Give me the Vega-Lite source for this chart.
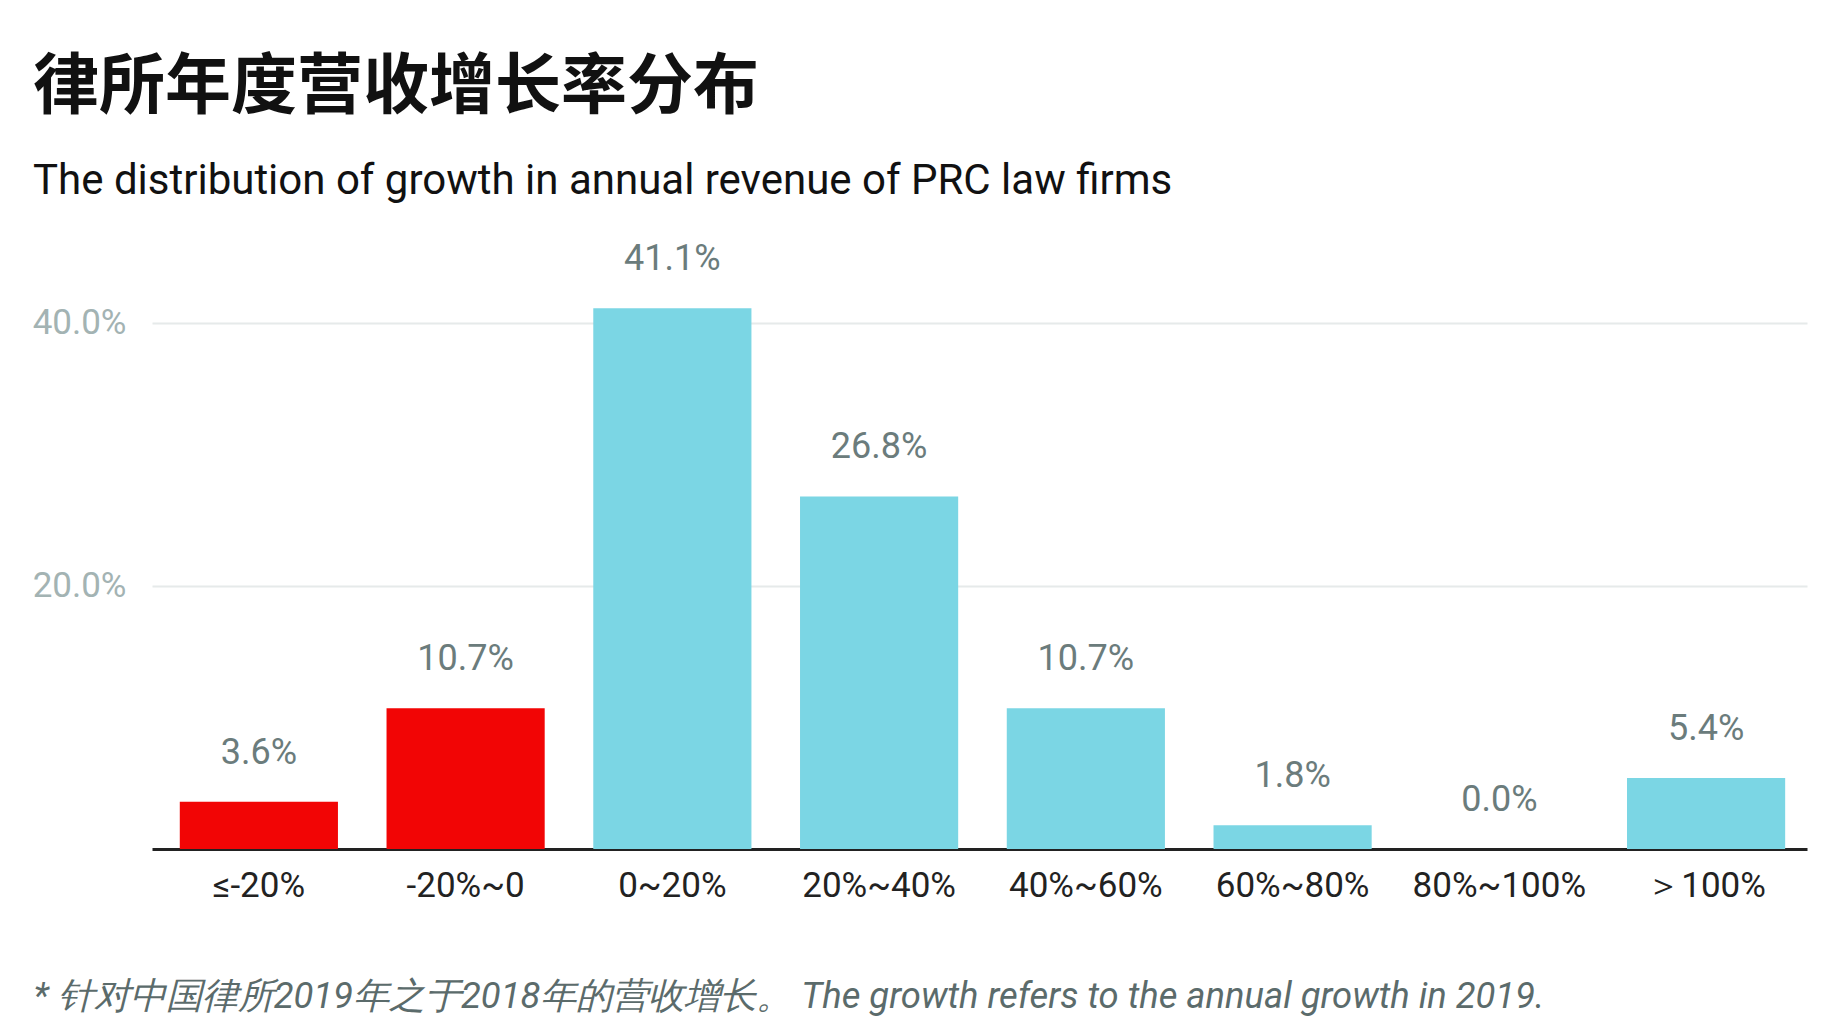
{
  "$schema": "https://vega.github.io/schema/vega-lite/v6.json",
  "width": 1655,
  "height": 592,
  "autosize": {"type": "none"},
  "padding": {"left": 152, "top": 257, "right": 29, "bottom": 174},
  "background": "white",
  "config": {"view": {"stroke": null}},
  "title": {
    "text": "律所年度营收增长率分布",
    "subtitle": "The distribution of growth in annual revenue of PRC law firms",
    "anchor": "start",
    "frame": "group",
    "dx": -119,
    "offset": 38,
    "font": "Noto Sans CJK SC",
    "fontSize": 66,
    "fontWeight": "bold",
    "color": "#111111",
    "subtitleFont": "Roboto",
    "subtitleFontSize": 42,
    "subtitleColor": "#111111",
    "subtitlePadding": 39
  },
  "data": {
    "values": [
      {"range": "≤-20%", "share": 0.036, "sign": "negative"},
      {"range": "-20%~0", "share": 0.107, "sign": "negative"},
      {"range": "0~20%", "share": 0.411, "sign": "positive"},
      {"range": "20%~40%", "share": 0.268, "sign": "positive"},
      {"range": "40%~60%", "share": 0.107, "sign": "positive"},
      {"range": "60%~80%", "share": 0.018, "sign": "positive"},
      {"range": "80%~100%", "share": 0.0, "sign": "positive"},
      {"range": "＞100%", "share": 0.054, "sign": "positive"}
    ]
  },
  "encoding": {
    "x": {
      "field": "range",
      "type": "nominal",
      "sort": null,
      "scale": {"paddingInner": 0.235, "paddingOuter": 0.12, "align": 0.56},
      "axis": {
        "title": "* 针对中国律所2019年之于2018年的营收增长。 The growth refers to the annual growth in 2019.",
        "titleFont": "Roboto",
        "titleFontSize": 36.4,
        "titleFontStyle": "italic",
        "titleFontWeight": "normal",
        "titleColor": "#5b6b6b",
        "titleAlign": "left",
        "titleAnchor": "start",
        "titleBaseline": "alphabetic",
        "titleX": -119,
        "titleY": 158,
        "labelAngle": 0,
        "labelFont": "Roboto",
        "labelFontSize": 35,
        "labelColor": "#222222",
        "labelPadding": 19,
        "ticks": false,
        "domainColor": "#222222",
        "domainWidth": 3,
        "grid": false
      }
    },
    "y": {
      "field": "share",
      "type": "quantitative",
      "scale": {"domain": [0, 0.45]},
      "axis": {
        "title": null,
        "values": [0.2, 0.4],
        "format": ".1%",
        "labelFont": "Roboto",
        "labelFontSize": 35,
        "labelColor": "#a3b3b3",
        "labelPadding": 26,
        "ticks": false,
        "domain": false,
        "grid": true,
        "gridColor": "#e6eaea",
        "gridWidth": 2
      }
    }
  },
  "layer": [
    {
      "mark": {"type": "bar"},
      "encoding": {
        "color": {
          "field": "sign",
          "type": "nominal",
          "scale": {"domain": ["negative", "positive"], "range": ["#f20505", "#7bd6e4"]},
          "legend": null
        }
      }
    },
    {
      "mark": {
        "type": "text",
        "baseline": "alphabetic",
        "dy": -38,
        "font": "Roboto",
        "fontSize": 36,
        "color": "#6b7c7c"
      },
      "encoding": {
        "text": {"field": "share", "type": "quantitative", "format": ".1%"}
      }
    }
  ]
}
